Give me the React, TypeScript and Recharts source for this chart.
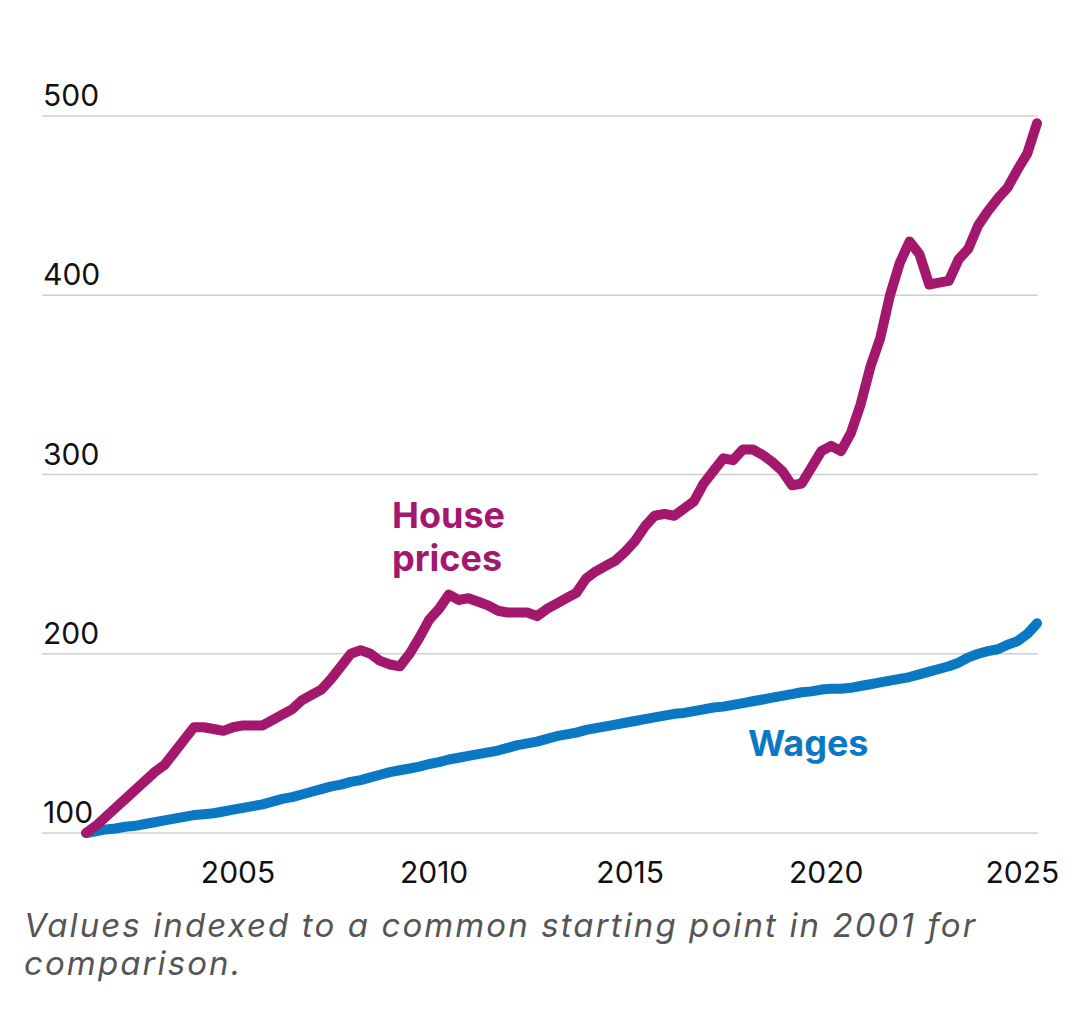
import React from "react";
import { CartesianGrid, Line, LineChart, XAxis, YAxis } from "recharts";

// quarterly series, indexed to 100 at the start of 2001
const START_YEAR = 2001;

const housePrices = [
  100, 104, 109, 114, 119, 124, 129, 134, 138, 145, 152, 159, 159, 158, 157, 159,
  160, 160, 160, 163, 166, 169, 174, 177, 180, 186, 193, 200, 202, 200, 196, 194,
  193, 200, 209, 219, 225, 233, 230, 231, 229, 227, 224, 223, 223, 223, 221, 225,
  228, 231, 234, 242, 246, 249, 252, 257, 263, 271, 277, 278, 277, 281, 285, 295,
  302, 309, 308, 314, 314, 311, 307, 302, 294, 295, 304, 313, 316, 313, 323, 339,
  360, 376, 400, 418, 430, 423, 406, 407, 408, 420, 426, 439, 447, 454, 460, 470,
  479, 496,
];

const wages = [
  100, 101, 102, 102.5, 103.5, 104, 105, 106, 107, 108, 109, 110, 110.5, 111, 112, 113,
  114, 115, 116, 117.5, 119, 120, 121.5, 123, 124.5, 126, 127, 128.5, 129.5, 131, 132.5, 134,
  135, 136, 137, 138.5, 139.5, 141, 142, 143, 144, 145, 146, 147.5, 149, 150, 151, 152.5,
  154, 155, 156, 157.5, 158.5, 159.5, 160.5, 161.5, 162.5, 163.5, 164.5, 165.5, 166.5, 167, 168, 169,
  170, 170.5, 171.5, 172.5, 173.5, 174.5, 175.5, 176.5, 177.5, 178.5, 179, 180, 180.5, 180.5, 181, 182,
  183, 184, 185, 186, 187, 188.5, 190, 191.5, 193, 195, 198, 200, 201.5, 202.5, 205, 207,
  211, 217,
];

const yearTicks = [2005, 2010, 2015, 2020, 2025];
const valueTicks = [100, 200, 300, 400, 500];

const PURPLE = "#a3186d";
const BLUE = "#0a78c3";
const FONT = "Inter, 'Open Sans', sans-serif";

const data = housePrices.map((h, i) => ({
  t: START_YEAR + 0.125 + i * 0.25,
  house: h,
  wages: wages[i],
}));

function YTick({ y, payload }: any) {
  return (
    <text x={43} y={y - 10} textAnchor="start" fill="#111" fontSize={30} fontFamily={FONT}>
      {payload.value}
    </text>
  );
}

function XTick({ x, y, payload }: any) {
  return (
    <text x={x} y={y + 42} textAnchor="middle" fill="#111" fontSize={30} fontFamily={FONT}>
      {payload.value}
    </text>
  );
}

export default function App() {
  return (
    <div style={{ position: "absolute", left: 0, top: 0, width: 1078, height: 1036, background: "#fff" }}>
      <LineChart
        width={1078}
        height={900}
        data={data}
        margin={{ top: 116, right: 40, left: -18, bottom: 17 }}
      >
        <CartesianGrid vertical={false} stroke="#cfcfcf" strokeWidth={1.5} />
        <XAxis
          dataKey="t"
          type="number"
          domain={[2000, 2025.4]}
          ticks={yearTicks}
          tick={<XTick />}
          axisLine={false}
          tickLine={false}
          height={50}
        />
        <YAxis
          type="number"
          domain={[100, 500]}
          ticks={valueTicks}
          tick={<YTick />}
          axisLine={false}
          tickLine={false}
          width={60}
        />
        <Line
          type="linear"
          dataKey="wages"
          stroke={BLUE}
          strokeWidth={10}
          strokeLinecap="round"
          strokeLinejoin="round"
          dot={false}
          isAnimationActive={false}
        />
        <Line
          type="linear"
          dataKey="house"
          stroke={PURPLE}
          strokeWidth={10}
          strokeLinecap="round"
          strokeLinejoin="round"
          dot={false}
          isAnimationActive={false}
        />
      </LineChart>
      <div
        style={{
          position: "absolute",
          left: 392,
          top: 494,
          color: PURPLE,
          fontFamily: FONT,
          fontWeight: 700,
          fontSize: 36,
          lineHeight: "43px",
        }}
      >
        House
        <br />
        prices
      </div>
      <div
        style={{
          position: "absolute",
          left: 748,
          top: 722,
          color: BLUE,
          fontFamily: FONT,
          fontWeight: 700,
          fontSize: 36,
          lineHeight: "43px",
        }}
      >
        Wages
      </div>
      <div
        style={{
          position: "absolute",
          left: 24,
          top: 906,
          color: "#555",
          fontFamily: FONT,
          fontStyle: "italic",
          fontSize: 33,
          letterSpacing: 2.1,
          lineHeight: "38px",
        }}
      >
        Values indexed to a common starting point in 2001 for
        <br />
        comparison.
      </div>
    </div>
  );
}
